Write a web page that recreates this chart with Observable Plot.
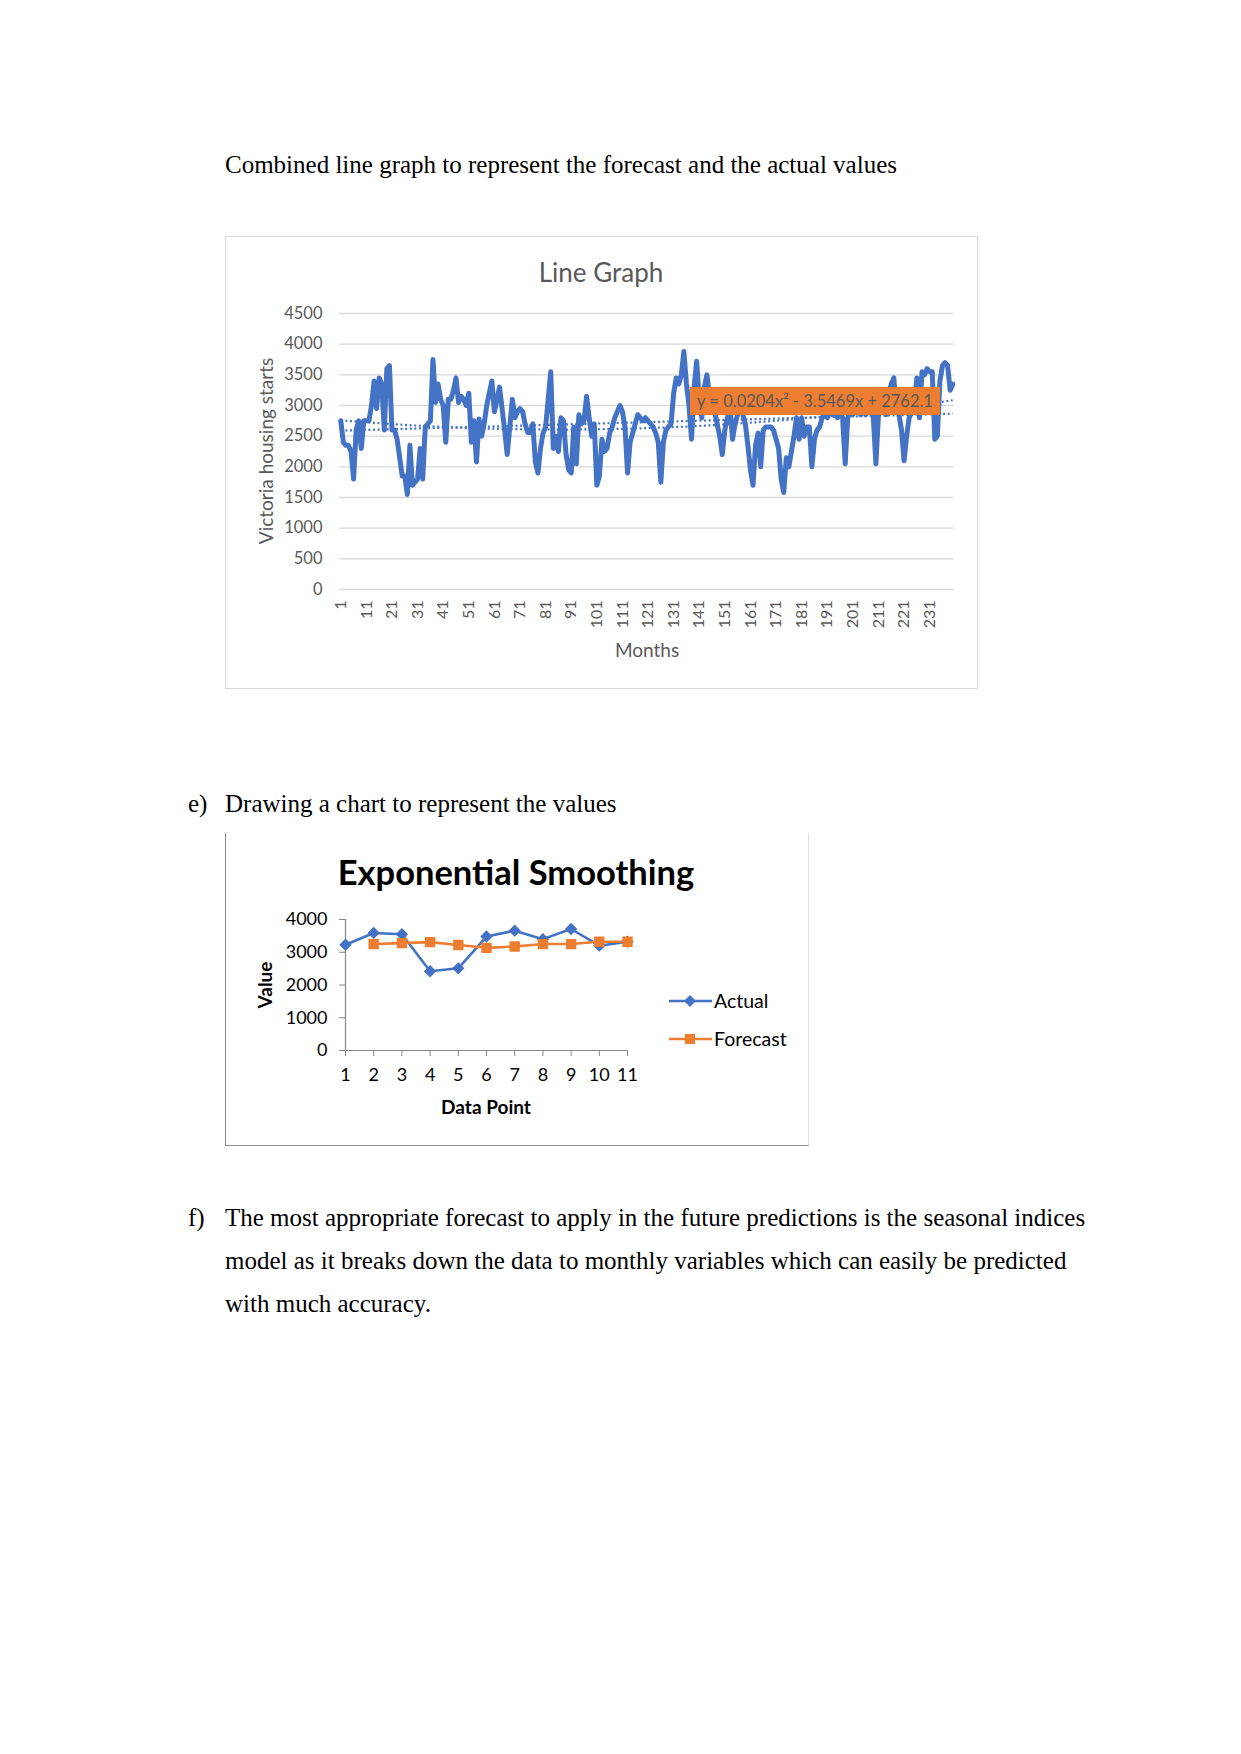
<!DOCTYPE html>
<html>
<head>
<meta charset="utf-8">
<script src="https://cdn.jsdelivr.net/npm/d3@7"></script>
<script src="https://cdn.jsdelivr.net/npm/@observablehq/plot@0.6"></script>
<style>
  html, body { margin: 0; padding: 0; background: #fff; }
  body { width: 1241px; height: 1754px; position: relative; overflow: hidden; }
  .doc { position: absolute; font-family: "Liberation Serif", "Times New Roman", serif; font-size: 25px; color: #000; white-space: nowrap; line-height: 30px; }
  .abs { position: absolute; white-space: nowrap; }
  #frame1 { position: absolute; left: 225px; top: 236px; width: 751px; height: 451px; border: 1px solid #D9D9D9; }
  #frame2 { position: absolute; left: 225px; top: 833px; width: 582px; height: 312px; border-left: 1.5px solid #8c8c8c; border-bottom: 1.5px solid #8c8c8c; border-right: 1px solid #e2e2e2; }
  #chart1, #chart2 { position: absolute; }
  #chart1 { left: 225px; top: 236px; }
  #chart2 { left: 225px; top: 833px; }
</style>
</head>
<body>
<div class="doc" style="left:225px; top:150px;">Combined line graph to represent the forecast and the actual values</div>

<div id="frame1"></div>
<div id="chart1"></div>
<div class="abs" style="left:501px; top:255px; width:200px; text-align:center; font-family:Lato; font-size:26px; color:#595959; line-height:34px;">Line Graph</div>
<div class="abs" style="left:116px; top:439px; width:300px; text-align:center; font-family:Lato; font-size:19px; color:#595959; line-height:24px; transform:rotate(-90deg);">Victoria housing starts</div>
<div class="abs" style="left:547px; top:638px; width:200px; text-align:center; font-family:Lato; font-size:19px; color:#595959; line-height:24px;">Months</div>
<div class="abs" style="left:690px; top:387px; width:250px; height:28px; background:#ED7D31; text-align:center; font-family:Lato; font-size:16.5px; color:#595959; line-height:28px; z-index:5;">y = 0.0204x² - 3.5469x + 2762.1</div>

<div class="doc" style="left:188px; top:789px;">e)</div>
<div class="doc" style="left:225px; top:789px;">Drawing a chart to represent the values</div>

<div id="frame2"></div>
<div id="chart2"></div>
<div class="abs" style="left:266px; top:851px; width:500px; text-align:center; font-family:Lato; font-weight:bold; font-size:34.5px; color:#000; line-height:42px;">Exponential Smoothing</div>
<div class="abs" style="left:215px; top:973px; width:100px; text-align:center; font-family:Lato; font-weight:bold; font-size:19px; color:#000; line-height:24px; transform:rotate(-90deg);">Value</div>
<div class="abs" style="left:436px; top:1095px; width:100px; text-align:center; font-family:Lato; font-weight:bold; font-size:19px; color:#000; line-height:24px;">Data Point</div>
<div id="legend2" class="abs" style="left:668px; top:988px; font-family:Lato; font-size:19.5px; color:#000;"></div>

<div class="doc" style="left:188px; top:1203px;">f)</div>
<div class="doc" style="left:225px; top:1203px;">The most appropriate forecast to apply in the future predictions is the seasonal indices</div>
<div class="doc" style="left:225px; top:1246px;">model as it breaks down the data to monthly variables which can easily be predicted</div>
<div class="doc" style="left:225px; top:1289px;">with much accuracy.</div>

<script>
// ---------- Chart 1 data: Victoria housing starts by month ----------
const months = d3.range(1, 241);
const housingStarts = [
  2750, 2400, 2350, 2350, 2250, 1800, 2600, 2750, 2300, 2750,
  2750, 2750, 3000, 3400, 2950, 3450, 3350, 2600, 3600, 3650,
  2600, 2600, 2450, 2150, 1850, 1850, 1550, 2350, 1700, 1750,
  1800, 2300, 1800, 2650, 2700, 2750, 3750, 3050, 3350, 3100,
  3000, 2400, 3100, 3100, 3250, 3450, 3050, 3150, 3100, 3000,
  3200, 2400, 2750, 2080, 2780, 2500, 2700, 3000, 3200, 3400,
  2900, 3100, 3300, 2950, 2600, 2200, 2650, 3100, 2800, 2900,
  2950, 2900, 2700, 2560, 2560, 2700, 2080, 1900, 2300, 2550,
  2650, 3100, 3550, 2300, 2500, 2250, 2800, 2750, 2200, 1950,
  1900, 2650, 2050, 2850, 2700, 2750, 3150, 2800, 2500, 2700,
  1700, 1850, 2450, 2250, 2300, 2550, 2650, 2800, 2900, 3000,
  2900, 2650, 1900, 2400, 2550, 2700, 2850, 2800, 2750, 2800,
  2750, 2700, 2650, 2550, 2400, 1750, 2400, 2600, 2650, 2700,
  3200, 3450, 3350, 3500, 3880, 3350, 3000, 2450, 3300, 3720,
  3100, 2800, 3300, 3500, 3150, 3000, 2900, 2700, 2500, 2200,
  2600, 2800, 3000, 2450, 2700, 2850, 3000, 2850, 2700, 2350,
  1950, 1700, 2350, 2550, 2000, 2600, 2650, 2650, 2650, 2600,
  2450, 2300, 1800, 1580, 2150, 2000, 2250, 2500, 2800, 2450,
  2800, 2500, 2650, 2650, 2000, 2450, 2600, 2650, 2800, 2850,
  2800, 2900, 2850, 2950, 2800, 2900, 2800, 2050, 2800, 2900,
  2850, 2950, 2900, 2850, 2950, 2850, 2900, 2950, 2800, 2050,
  2850, 2900, 3000, 2850, 3200, 3350, 3450, 2900, 2850, 2600,
  2100, 2500, 2800, 2900, 3050, 3450, 2800, 3550, 3500, 3600,
  3550, 3550, 2450, 2500, 3400, 3650, 3700, 3650, 3250, 3350
];
const polyCoef = [0.0204, -3.5469, 2762.1]; // trendline equation shown on chart
const yTicks1 = [0, 500, 1000, 1500, 2000, 2500, 3000, 3500, 4000, 4500];
const xTicks1 = [1, 11, 21, 31, 41, 51, 61, 71, 81, 91, 101, 111, 121, 131, 141, 151, 161, 171, 181, 191, 201, 211, 221, 231];

// ---------- Chart 2 data: exponential smoothing ----------
const dataPoints = [1, 2, 3, 4, 5, 6, 7, 8, 9, 10, 11];
const actual = [3230, 3590, 3550, 2420, 2510, 3480, 3660, 3400, 3710, 3200, 3320];
const forecast = [null, 3250, 3280, 3310, 3220, 3135, 3175, 3250, 3250, 3320, 3320];
const yTicks2 = [0, 1000, 2000, 3000, 4000];

const blue = "#4472C4", orange = "#ED7D31";

const series1 = months.map((m, i) => ({m, v: housingStarts[i]}));
const polyTrend = months.map(m => ({m, v: polyCoef[0] * m * m + polyCoef[1] * m + polyCoef[2]}));

const chart1 = Plot.plot({
  width: 752, height: 452,
  marginLeft: 114, marginRight: 23.5, marginTop: 77, marginBottom: 99,
  x: {domain: [0.5, 240.5]},
  y: {domain: [0, 4500]},
  style: {fontFamily: "Lato", fontSize: "16px", color: "#595959", background: "transparent", overflow: "visible"},
  marks: [
    Plot.gridY(yTicks1, {stroke: "#D9D9D9", strokeOpacity: 1, strokeWidth: 1.3}),
    Plot.axisY(yTicks1, {tickSize: 0, tickPadding: 17, label: null, fill: "#595959", fontSize: 16.5, tickFormat: "d"}),
    Plot.axisX(xTicks1, {tickSize: 0, tickPadding: 11, tickRotate: -90, label: null, fill: "#595959", fontSize: 16, tickFormat: "d"}),
    Plot.lineY(series1, {x: "m", y: "v", stroke: blue, strokeWidth: 5}),
    Plot.linearRegressionY(series1, {x: "m", y: "v", ci: 0, stroke: blue, strokeWidth: 2.2, strokeDasharray: "2,2.6", strokeLinecap: "butt"}),
    Plot.lineY(polyTrend, {x: "m", y: "v", stroke: blue, strokeWidth: 2.2, strokeDasharray: "2,2.6", strokeLinecap: "butt"})
  ]
});
document.getElementById("chart1").append(chart1);

const act = dataPoints.map((d, i) => ({d, v: actual[i]}));
const fc = dataPoints.map((d, i) => ({d, v: forecast[i]})).filter(r => r.v != null);

const chart2 = Plot.plot({
  width: 583, height: 314,
  marginLeft: 120, marginRight: 181, marginTop: 86, marginBottom: 97,
  x: {domain: [1, 11]},
  y: {domain: [0, 4000]},
  style: {fontFamily: "Lato", fontSize: "18px", color: "#000", background: "transparent", overflow: "visible"},
  marks: [
    Plot.axisY(yTicks2, {tickSize: 6, tickPadding: 12, label: null, stroke: "#868686", fill: "#000", fontSize: 18, tickFormat: "d"}),
    Plot.axisX(dataPoints, {tickSize: 6, tickPadding: 12, label: null, stroke: "#868686", fill: "#000", fontSize: 18, tickFormat: "d"}),
    Plot.ruleX([1], {stroke: "#868686", strokeWidth: 1.2}),
    Plot.ruleY([0], {stroke: "#868686", strokeWidth: 1.2}),
    Plot.lineY(act, {x: "d", y: "v", stroke: blue, strokeWidth: 2.6}),
    Plot.lineY(fc, {x: "d", y: "v", stroke: orange, strokeWidth: 2.6}),
    Plot.dot(act, {x: "d", y: "v", symbol: "diamond2", r: 4.6, fill: blue, stroke: blue}),
    Plot.dot(fc, {x: "d", y: "v", symbol: "square", r: 5, fill: orange, stroke: orange})
  ]
});
document.getElementById("chart2").append(chart2);

// legend
const legendItems = [
  {label: "Actual", color: blue, symbol: "diamond"},
  {label: "Forecast", color: orange, symbol: "square"}
];
const leg = document.getElementById("legend2");
legendItems.forEach((it, k) => {
  const row = document.createElement("div");
  row.style.cssText = "position:absolute; left:0; top:" + (k * 38) + "px; height:26px; display:flex; align-items:center;";
  const shape = it.symbol === "diamond"
    ? '<path d="M22 8 L28 14 L22 20 L16 14 Z" fill="' + it.color + '"/>'
    : '<rect x="17" y="9" width="10" height="10" fill="' + it.color + '"/>';
  row.innerHTML = '<svg width="46" height="28" style="display:block"><line x1="1" y1="14" x2="44" y2="14" stroke="' + it.color + '" stroke-width="2.6"/>' + shape + '</svg><span style="margin-left:0px; line-height:26px;">' + it.label + '</span>';
  leg.append(row);
});
</script>
</body>
</html>
